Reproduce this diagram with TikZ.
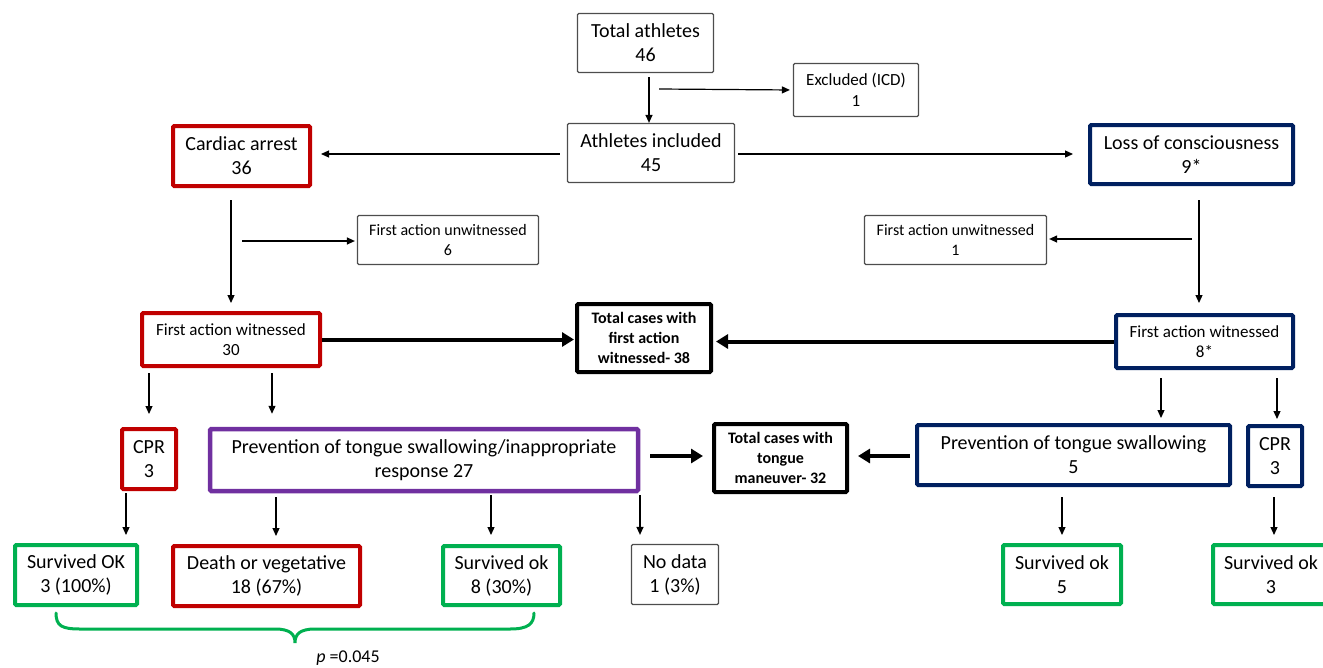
\documentclass[tikz,border=0pt]{standalone}
\usepackage{fontspec}
\setmainfont{Carlito}
\usetikzlibrary{arrows.meta}
\definecolor{cred}{HTML}{C00000}
\definecolor{cnavy}{HTML}{002060}
\definecolor{cpurple}{HTML}{7030A0}
\definecolor{cgreen}{HTML}{00B050}
\definecolor{cthin}{HTML}{4D4D4D}
\begin{document}
\begin{tikzpicture}[x=1pt,y=-1pt,
  box/.style={draw, inner sep=0pt, align=center, rounded corners=1.2pt, font=\fontsize{20}{24}\selectfont},
  thinbox/.style={box, draw=cthin, line width=1.2pt},
  redbox/.style={box, draw=cred, line width=4pt},
  navybox/.style={box, draw=cnavy, line width=4pt},
  greenbox/.style={box, draw=cgreen, line width=4pt},
  purplebox/.style={box, draw=cpurple, line width=4.5pt},
  blackbox/.style={box, draw=black, line width=4pt, font=\bfseries\fontsize{16}{20}\selectfont},
  sz/.style 2 args={minimum width=#1pt, minimum height=#2pt},
  arr/.style={draw=black, line width=1.2pt, -{Triangle[length=8pt,width=7pt]}},
  thickarr/.style={draw=black, line width=4pt, -{Triangle[length=12pt,width=14pt]}},
  small/.style={font=\fontsize{16}{19.5}\selectfont},
  mid/.style={font=\fontsize{17}{20.5}\selectfont}
]
\useasboundingbox (0,0) rectangle (1323,667);

% nodes
\node[thinbox, sz={136}{59}] (tot) at (645.5,43) {Total athletes\\46};
\node[thinbox, sz={125}{53}, mid] (exc) at (856,90) {Excluded (ICD)\\1};
\node[thinbox, sz={167}{59}] (inc) at (651,153) {Athletes included\\45};
\node[redbox, sz={137}{60}] (ca) at (241.5,156) {Cardiac arrest\\36};
\node[navybox, sz={203}{59}] (loc) at (1191.5,154.5) {Loss of consciousness\\9*};
\node[thinbox, sz={181}{49}, small] (fauL) at (448,240) {First action unwitnessed\\6};
\node[thinbox, sz={182}{49}, small] (fauR) at (955.5,240) {First action unwitnessed\\1};
\node[redbox, sz={178}{53}, mid] (fawL) at (231,339.5) {First action witnessed\\30};
\node[blackbox, sz={134}{68}] (tfaw) at (644,338) {Total cases with\\first action\\witnessed- 38};
\node[navybox, sz={177}{53}, mid] (fawR) at (1204.5,341.5) {First action witnessed\\8*};
\node[redbox, sz={54}{60}] (cprL) at (149,459) {CPR\\3};
\node[purplebox, sz={428}{62}] (ptL) at (424,460) {Prevention of tongue swallowing/inappropriate\\response 27};
\node[blackbox, sz={133}{68}] (ttm) at (780.5,458) {Total cases with\\tongue\\maneuver- 32};
\node[navybox, sz={313}{60}] (ptR) at (1073.5,455) {Prevention of tongue swallowing\\5};
\node[navybox, sz={54}{60}] (cprR) at (1275,456) {CPR\\3};
\node[greenbox, sz={122}{60}] (s1) at (76,575) {Survived OK\\3 (100\%)};
\node[redbox, sz={187}{60}] (dv) at (266.5,576) {Death or vegetative\\18 (67\%)};
\node[greenbox, sz={117}{59}] (s2) at (501.5,575.5) {Survived ok\\8 (30\%)};
\node[thinbox, sz={87}{60}] (nd) at (675,574.5) {No data\\1 (3\%)};
\node[greenbox, sz={118}{59}] (s3) at (1062,574.5) {Survived ok\\5};
\node[greenbox, sz={116}{59}] (s4) at (1271,574.5) {Survived ok\\3};
\node[font=\fontsize{18}{22}\selectfont] (pval) at (348,658) {\textit{p} =0.045};

% top connectors
\coordinate (t1) at ([xshift=3.5pt]tot.south);
\draw[arr, shorten <=4pt] (t1) -- (t1 |- inc.north);
\coordinate (e1) at (659,89);
\draw[arr, shorten >=3pt] (e1) -- (exc.west);
\coordinate (i1) at (inc.west |- 0,154);
\draw[arr, shorten <=7pt, shorten >=9pt] (i1) -- (i1 -| ca.east);
\coordinate (i2) at (inc.east |- 0,154);
\draw[arr, shorten <=3pt, shorten >=15pt] (i2) -- (i2 -| loc.west);

% left branch
\coordinate (c1) at (fawL.north |- ca.south);
\draw[arr, shorten <=12pt, shorten >=8pt] (c1) -- (fawL.north);
\coordinate (c2) at (242,241);
\draw[arr, shorten >=2pt] (c2) -- (c2 -| fauL.west);

% right branch
\coordinate (r1) at (1199,186);
\draw[arr, shorten <=14pt, shorten >=10pt] (r1) -- (r1 |- fawR.north);
\coordinate (r2) at (1192,239);
\draw[arr, shorten >=2pt] (r2) -- (r2 -| fauR.east);

% thick arrows
\draw[thickarr, shorten >=1pt] (fawL.east) -- (fawL.east -| tfaw.west);
\draw[thickarr, shorten >=3pt] (fawR.west) -- (fawR.west -| tfaw.east);
\coordinate (p1) at (ptL.east |- 0,456);
\draw[thickarr, shorten <=10pt, shorten >=9pt] (p1) -- (p1 -| ttm.west);
\coordinate (p2) at (ptR.west |- 0,456);
\draw[thickarr, shorten <=5pt, shorten >=9pt] (p2) -- (p2 -| ttm.east);

% witnessed -> actions
\coordinate (a1) at (149,368);
\draw[arr, shorten <=5pt, shorten >=13pt] (a1) -- (a1 |- cprL.north);
\coordinate (a2) at (272,368);
\draw[arr, shorten <=5pt, shorten >=13pt] (a2) -- (a2 |- ptL.north);
\coordinate (a3) at (1161,370);
\draw[arr, shorten <=8pt, shorten >=5pt] (a3) -- (a3 |- ptR.north);
\coordinate (a4) at (1277,370);
\draw[arr, shorten <=8pt, shorten >=5pt] (a4) -- (a4 |- cprR.north);

% actions -> outcomes
\coordinate (b1) at (126,491);
\draw[arr, shorten <=2pt, shorten >=8pt] (b1) -- (b1 |- s1.north);
\coordinate (b2) at (276,493);
\draw[arr, shorten <=4pt, shorten >=8pt] (b2) -- (b2 |- dv.north);
\coordinate (b3) at (491,493);
\draw[arr, shorten <=2pt, shorten >=9pt] (b3) -- (b3 |- s2.north);
\coordinate (b4) at (640,493);
\draw[arr, shorten <=2pt, shorten >=9pt] (b4) -- (b4 |- nd.north);
\coordinate (b5) at (1062,487);
\draw[arr, shorten <=10pt, shorten >=8pt] (b5) -- (b5 |- s3.north);
\coordinate (b6) at (1274,488);
\draw[arr, shorten <=9pt, shorten >=8pt] (b6) -- (b6 |- s4.north);

% brace
\draw[cgreen, line width=3pt, line cap=round]
  (56,613) .. controls (56,626) and (62,629) .. (80,629) -- (275,629)
  .. controls (290,629) and (295,634) .. (295,643)
  .. controls (295,634) and (300,629) .. (315,629) -- (510,629)
  .. controls (528,629) and (534,624) .. (534,613);
\end{tikzpicture}
\end{document}
